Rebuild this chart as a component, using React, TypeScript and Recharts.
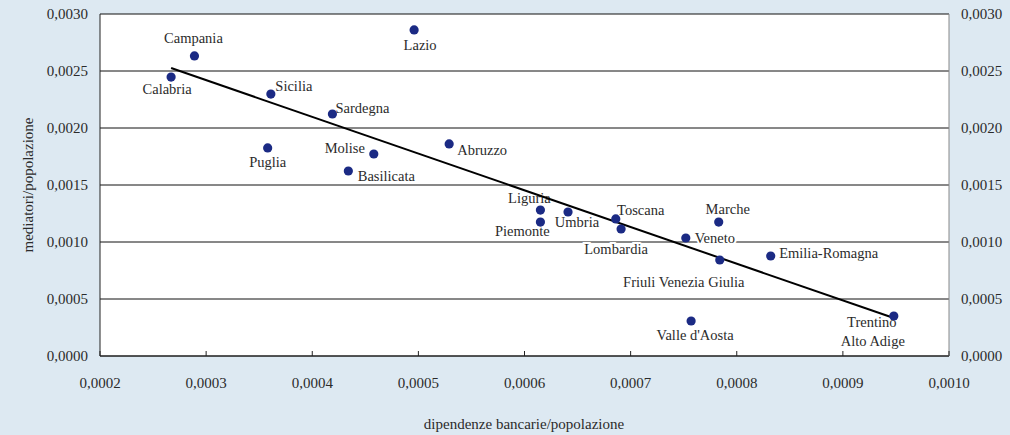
import React from "react";
import {
  ScatterChart,
  Scatter,
  XAxis,
  YAxis,
  CartesianGrid,
  Label,
} from "recharts";

// regions and their two ratios
const REGIONS = [
  "Campania", "Calabria", "Sicilia", "Lazio", "Sardegna", "Puglia", "Molise",
  "Basilicata", "Abruzzo", "Liguria", "Piemonte", "Umbria", "Toscana",
  "Lombardia", "Veneto", "Marche", "Friuli Venezia Giulia", "Emilia-Romagna",
  "Valle d'Aosta", "Trentino Alto Adige",
];
const BANK_BRANCHES = [
  0.000289, 0.000267, 0.000361, 0.000496, 0.000419, 0.000358, 0.000458,
  0.000434, 0.000529, 0.000615, 0.000615, 0.000641, 0.000686,
  0.000691, 0.000752, 0.000783, 0.000784, 0.000832,
  0.000757, 0.000948,
];
const MEDIATORS = [
  0.002632, 0.002447, 0.002298, 0.00286, 0.002123, 0.001825, 0.001772,
  0.001623, 0.00186, 0.00128, 0.001175, 0.001263, 0.001202,
  0.001114, 0.001035, 0.001175, 0.000842, 0.000877,
  0.000307, 0.000351,
];
const TREND_X = [0.000267, 0.000948];
const TREND_Y = [0.002526, 0.000333];
const X_TICKS = [0.0002, 0.0003, 0.0004, 0.0005, 0.0006, 0.0007, 0.0008, 0.0009, 0.001];
const Y_TICKS = [0, 0.0005, 0.001, 0.0015, 0.002, 0.0025, 0.003];

const points = REGIONS.map((name, i) => ({ name, x: BANK_BRANCHES[i], y: MEDIATORS[i] }));
const trend = TREND_X.map((x, i) => ({ x, y: TREND_Y[i] }));

// label placement around each dot (pixels)
const LABEL_POS: Record<string, [number, number]> = {
  Campania: [-1, -18],
  Calabria: [-4, 12],
  Sicilia: [23, -8],
  Lazio: [6, 15],
  Sardegna: [30, -6],
  Puglia: [0, 14],
  Molise: [-29, -6],
  Basilicata: [38, 5],
  Abruzzo: [33, 6],
  Liguria: [-11, -12],
  Piemonte: [-18, 9],
  Umbria: [9, 10],
  Toscana: [25, -9],
  Lombardia: [-5, 20],
  Veneto: [29, 0],
  Marche: [9, -13],
  "Friuli Venezia Giulia": [-36, 22],
  "Emilia-Romagna": [58, -3],
  "Valle d'Aosta": [4, 14],
};

const FONT = "Liberation Serif";
const TEXT = "#2b2b2b";
const fmt = (v: number) => v.toFixed(4).replace(".", ",");

const RegionLabel = (props: any) => {
  const { cx, cy, payload } = props;
  const name: string = payload.name;
  const common = {
    textAnchor: "middle" as const,
    dominantBaseline: "central" as const,
    fontFamily: FONT,
    fontSize: 14.5,
    fill: TEXT,
    stroke: "#fff",
    strokeWidth: 4,
    paintOrder: "stroke" as const,
  };
  if (name === "Trentino Alto Adige") {
    return (
      <g>
        <text x={cx - 22} y={cy + 6} {...common}>Trentino</text>
        <text x={cx - 21} y={cy + 25} {...common}>Alto Adige</text>
      </g>
    );
  }
  const [dx, dy] = LABEL_POS[name] || [0, 14];
  return (
    <text x={cx + dx} y={cy + dy} {...common}>
      {name}
    </text>
  );
};

const Dot = (props: any) => <circle cx={props.cx} cy={props.cy} r={4.6} fill="#1b2a84" />;
const Nothing = () => <g />;

const XTick = (props: any) => {
  const { x, y, payload } = props;
  return (
    <g>
      <line x1={x} x2={x} y1={y} y2={y - 5} stroke="#222" />
      <text x={x} y={y + 27} textAnchor="middle" dominantBaseline="central" fontFamily={FONT} fontSize={15} fill={TEXT}>
        {fmt(payload.value)}
      </text>
    </g>
  );
};

export default function App() {
  const tickStyle = { fontFamily: FONT, fontSize: 15, fill: TEXT };
  return (
    <div style={{ position: "absolute", left: 0, top: 0, width: 1010, height: 435, background: "#dde9f2", fontFamily: FONT }}>
      <ScatterChart width={1010} height={435} margin={{ top: 14, right: 0, left: 40, bottom: 29 }}>
        <CartesianGrid yAxisId="left" vertical={false} stroke="#111" fill="#fff" />
        <XAxis
          type="number"
          dataKey="x"
          domain={[0.0002, 0.001]}
          ticks={X_TICKS}
          allowDataOverflow
          height={50}
          tickSize={0}
          tickMargin={0}
          tickLine={false}
          tick={<XTick />}
          stroke="#222"
        >
          <Label
            content={() => (
              <text x={524} y={424} textAnchor="middle" dominantBaseline="central" fontFamily={FONT} fontSize={15} fill={TEXT}>
                dipendenze bancarie/popolazione
              </text>
            )}
          />
        </XAxis>
        <YAxis
          yAxisId="left"
          type="number"
          dataKey="y"
          domain={[0, 0.003]}
          ticks={Y_TICKS}
          allowDataOverflow
          width={60}
          tickLine={false}
          tickSize={6}
          tickMargin={6}
          tickFormatter={fmt}
          tick={tickStyle}
          stroke="#222"
        >
          <Label
            content={() => (
              <text
                x={28}
                y={185}
                transform="rotate(-90 28 185)"
                textAnchor="middle"
                dominantBaseline="central"
                fontFamily={FONT}
                fontSize={15}
                fill={TEXT}
              >
                mediatori/popolazione
              </text>
            )}
          />
        </YAxis>
        <YAxis
          yAxisId="right"
          orientation="right"
          type="number"
          dataKey="y"
          domain={[0, 0.003]}
          ticks={Y_TICKS}
          allowDataOverflow
          width={61}
          tickLine={false}
          tickSize={6}
          tickMargin={6}
          tickFormatter={fmt}
          tick={tickStyle}
          stroke="#888"
        />
        <Scatter yAxisId="left" data={points} shape={<RegionLabel />} isAnimationActive={false} />
        <Scatter
          yAxisId="left"
          data={trend}
          line={{ stroke: "#000", strokeWidth: 2 }}
          shape={<Nothing />}
          isAnimationActive={false}
        />
        <Scatter yAxisId="right" data={trend} shape={<Nothing />} isAnimationActive={false} />
        <Scatter yAxisId="left" data={points} shape={<Dot />} isAnimationActive={false} />
      </ScatterChart>
    </div>
  );
}
